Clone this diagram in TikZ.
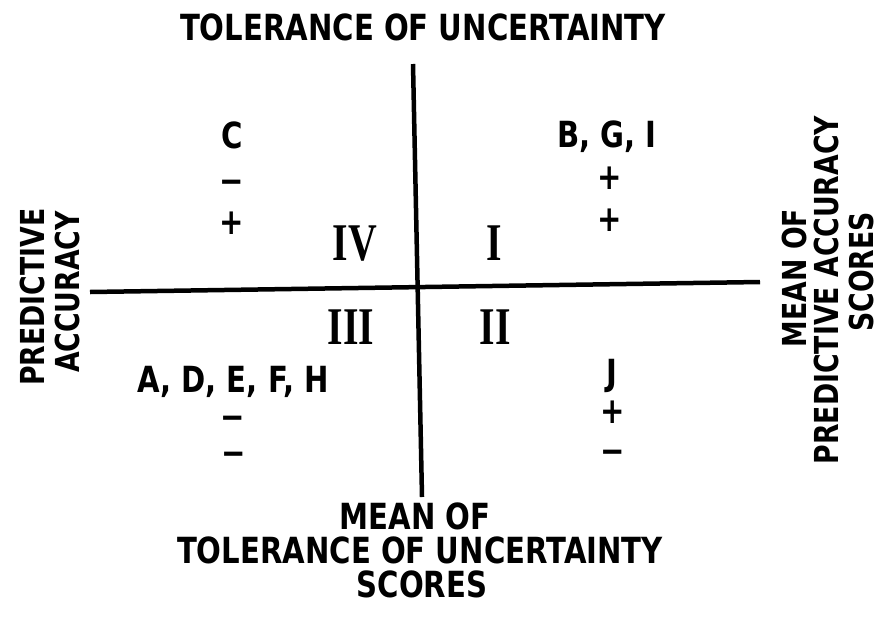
\documentclass[tikz,border=0pt]{standalone}
\usepackage{fontspec}
\newfontfamily\lab{DejaVu Sans}[FakeStretch=0.81]
\newfontfamily\rom{Liberation Serif}[FakeStretch=0.75]
\begin{document}
\begin{tikzpicture}[x=1pt,y=-1pt,
  lbl/.style={font=\lab\bfseries\fontsize{36}{40}\selectfont, inner sep=0pt},
  rlbl/.style={font=\lab\bfseries\fontsize{33}{36}\selectfont, inner sep=0pt, rotate=90, anchor=center},
  sgn/.style={font=\lab\bfseries\fontsize{36}{40}\selectfont, inner sep=0pt, anchor=center},
  num/.style={font=\rom\bfseries\fontsize{53}{56}\selectfont, inner sep=0pt, anchor=base},
  axis/.style={line width=4.5pt}]
\useasboundingbox (0,0) rectangle (880,621);
\coordinate (vt) at (413,64);
\coordinate (vb) at (422,497);
\coordinate (hl) at (90,292);
\coordinate (hr) at (760,282);
\draw[axis] (vt) -- (vb);
\draw[axis] (hl) -- (hr);
% title
\node[lbl,anchor=base] (title) at (423,40) {TOLERANCE OF UNCERTAINTY};
% quadrant numerals
\node[num] (q4) at (355,260) {IV};
\node[num] (q1) at (494,260) {I};
\node[num] (q3) at (351,344) {III};
\node[num] (q2) at (495,344) {II};
% upper left
\node[lbl,anchor=base] (c) at (232,148) {C};
\node[sgn] (c1) at (232,187) {−};
\node[sgn] (c2) at (232,223) {+};
% upper right
\node[lbl,anchor=base] (bgi) at (607,147) {B, G, I};
\node[sgn] (b1) at (610,178) {+};
\node[sgn] (b2) at (610,220) {+};
% lower left
\node[lbl,anchor=base] (adefh) at (233,392) {A, D, E, F, H};
\node[sgn] (a1) at (233,423) {−};
\node[sgn] (a2) at (234,459) {−};
% lower right
\node[lbl,anchor=base] (j) at (612,385) {J};
\node[sgn] (j1) at (613,412) {+};
\node[sgn] (j2) at (613,457) {−};
% left labels
\node[rlbl] (pa1) at (32,297) {PREDICTIVE};
\node[rlbl] (pa2) at (67,292) {ACCURACY};
% right labels
\node[rlbl] (rm1) at (794,278) {MEAN OF};
\node[rlbl] (rm2) at (826,290) {PREDICTIVE ACCURACY};
\node[rlbl] (rm3) at (861,272) {SCORES};
% bottom labels
\node[lbl,anchor=base] (bm1) at (415,529) {MEAN OF};
\node[lbl,anchor=base] (bm2) at (420,563) {TOLERANCE OF UNCERTAINTY};
\node[lbl,anchor=base] (bm3) at (422,597) {SCORES};
\end{tikzpicture}
\end{document}
